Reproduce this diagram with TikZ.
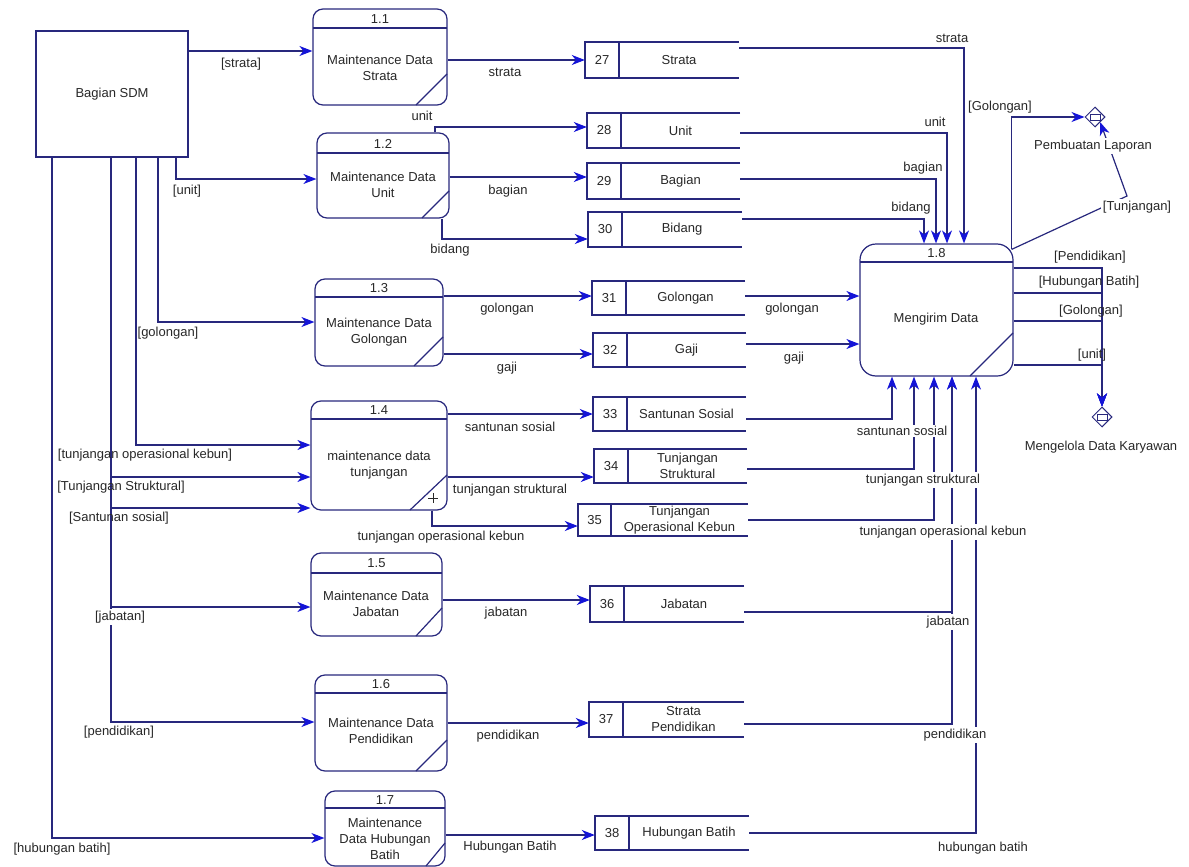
\documentclass[tikz,border=0pt]{standalone}
\usepackage{fontspec}
\setmainfont{Liberation Sans}
\usetikzlibrary{fit,arrows.meta,shapes.geometric,calc}
\definecolor{lnc}{RGB}{40,40,125}
\definecolor{ahc}{RGB}{20,20,215}
\definecolor{txc}{RGB}{40,40,40}
\newcommand\dfdproc[9]{%
  \node[procbox,fit={(#2,#3)(#4,#5)}] (#1) {};
  \draw[lnst] (#2,#6) -- (#4,#6);
  \draw[lnst] (#7,#5) -- (#4,#8);
  \node (#1num) at ({(#2+#4)/2},{(#3+#6)/2+0.5}) {#9};
}
\newcommand\dfdstore[8]{%
  \node[inner sep=0pt,fit={(#2,#3)(#4,#5)}] (#1) {};
  \draw[lnst] (#4,#3) -- (#2,#3) -- (#2,#5) -- (#4,#5);
  \draw[lnst] (#6,#3) -- (#6,#5);
  \node (#1num) at ({(#2+#6)/2},{(#3+#5)/2}) {#7};
  \node[align=center] (#1txt) at ({(#6+#4)/2},{(#3+#5)/2}) {#8};
}
\begin{document}
\begin{tikzpicture}[x=1pt,y=-1pt,
  every node/.style={font=\fontsize{13}{16}\selectfont,text=txc},
  lnst/.style={draw=lnc,line width=1.2pt},
  procbox/.style={draw=lnc,line width=1.2pt,rounded corners=10pt,inner sep=0pt},
  flow/.style={lnst,-{Stealth[length=13pt,width=10pt,inset=4pt,color=ahc]}},
  wl/.style={fill=white,inner sep=1.5pt},
  lbl/.style={inner sep=1pt},
  dia/.style={diamond,draw=lnc,line width=1pt,minimum width=20pt,minimum height=20pt,inner sep=0pt}]
\useasboundingbox[fill=white] (0,0) rectangle (1189,867);

% external entity
\node[draw=lnc,line width=1.2pt,inner sep=0pt,fit={(36,31)(188,157)}] (sdm) {};
\node (sdmt) at (sdm.center) {Bagian SDM};

% processes
\dfdproc{p11}{313}{9}{447}{105}{28}{416}{74}{1.1}
\node[align=center] (p11t) at (380,68) {Maintenance Data\\Strata};
\dfdproc{p12}{317}{133}{449}{218}{153}{422}{191}{1.2}
\node[align=center] (p12t) at (383,185) {Maintenance Data\\Unit};
\dfdproc{p13}{315}{279}{443}{366}{297}{414}{337}{1.3}
\node[align=center] (p13t) at (379,332) {Maintenance Data\\Golongan};
\dfdproc{p14}{311}{401}{447}{510}{419}{410}{475}{1.4}
\node[align=center] (p14t) at (379,465) {maintenance data\\tunjangan};
\draw[draw=txc,line width=0.8pt] (428,498) -- (438,498) (433,493) -- (433,503);
\dfdproc{p15}{311}{553}{442}{636}{573}{416}{608}{1.5}
\node[align=center] (p15t) at (376,604) {Maintenance Data\\Jabatan};
\dfdproc{p16}{315}{675}{447}{771}{693}{416}{740}{1.6}
\node[align=center] (p16t) at (381,731) {Maintenance Data\\Pendidikan};
\dfdproc{p17}{325}{791}{445}{866}{808}{426}{843}{1.7}
\node[align=center] (p17t) at (385,839) {Maintenance\\Data Hubungan\\Batih};
\begin{scope}[procbox/.append style={rounded corners=16pt}]
\dfdproc{p18}{860}{244}{1013}{376}{262}{970}{333}{1.8}
\end{scope}
\node (p18t) at (936,319) {Mengirim Data};

% data stores
\dfdstore{s27}{585}{42}{739}{78}{619}{27}{Strata}
\dfdstore{s28}{587}{113}{740}{148}{621}{28}{Unit}
\dfdstore{s29}{587}{163}{740}{199}{621}{29}{Bagian}
\dfdstore{s30}{588}{212}{742}{247}{622}{30}{Bidang}
\dfdstore{s31}{592}{281}{745}{315}{626}{31}{Golongan}
\dfdstore{s32}{593}{333}{746}{367}{627}{32}{Gaji}
\dfdstore{s33}{593}{397}{746}{431}{627}{33}{Santunan Sosial}
\dfdstore{s34}{594}{449}{747}{483}{628}{34}{Tunjangan\\Struktural}
\dfdstore{s35}{578}{504}{748}{536}{611}{35}{Tunjangan\\Operasional Kebun}
\dfdstore{s36}{590}{586}{744}{622}{624}{36}{Jabatan}
\dfdstore{s37}{589}{702}{744}{737}{623}{37}{Strata\\Pendidikan}
\dfdstore{s38}{595}{816}{749}{850}{629}{38}{Hubungan Batih}

% off-page connectors
\node[dia] (lap) at (1095,117) {};
\draw[lnst,line width=0.8pt] ($(lap)+(-5,-3)$) rectangle ($(lap)+(5,3)$);
\node[dia] (kary) at (1102,417) {};
\draw[lnst,line width=0.8pt] ($(kary)+(-5,-3)$) rectangle ($(kary)+(5,3)$);

% flows from Bagian SDM
\draw[flow] (sdm.east |- 0,51) -- (p11.west |- 0,51);
\draw[flow] (176,0 |- sdm.south) |- (p12.west |- 0,179);
\draw[flow] (158,0 |- sdm.south) |- (p13.west |- 0,322);
\draw[flow] (136,0 |- sdm.south) |- (p14.west |- 0,445);
\draw[flow] (111,0 |- sdm.south) |- (p14.west |- 0,477);
\draw[flow] (111,0 |- sdm.south) |- (p14.west |- 0,508);
\draw[flow] (111,0 |- sdm.south) |- (p15.west |- 0,607);
\draw[flow] (111,0 |- sdm.south) |- (p16.west |- 0,722);
\draw[flow] (52,0 |- sdm.south) |- (p17.west |- 0,838);

% flows process -> store
\draw[flow] (p11.east |- 0,60) -- (s27.west |- 0,60);
\draw[flow] (435,0 |- p12.north) |- (s28.west |- 0,127);
\draw[flow] (p12.east |- 0,177) -- (s29.west |- 0,177);
\draw[flow] (442,0 |- p12.south) |- (s30.west |- 0,239);
\draw[flow] (p13.east |- 0,296) -- (s31.west |- 0,296);
\draw[flow] (p13.east |- 0,354) -- (s32.west |- 0,354);
\draw[flow] (p14.east |- 0,414) -- (s33.west |- 0,414);
\draw[flow] (p14.east |- 0,477) -- (s34.west |- 0,477);
\draw[flow] (432,0 |- p14.south) |- (s35.west |- 0,526);
\draw[flow] (p15.east |- 0,600) -- (s36.west |- 0,600);
\draw[flow] (p16.east |- 0,723) -- (s37.west |- 0,723);
\draw[flow] (p17.east |- 0,835) -- (s38.west |- 0,835);

% flows store -> 1.8
\draw[flow] (s27.east |- 0,48) -| (964,0 |- p18.north);
\draw[flow] (s28.east |- 0,133) -| (947,0 |- p18.north);
\draw[flow] (s29.east |- 0,179) -| (936,0 |- p18.north);
\draw[flow] (s30.east |- 0,219) -| (924,0 |- p18.north);
\draw[flow] (s31.east |- 0,296) -- (p18.west |- 0,296);
\draw[flow] (s32.east |- 0,344) -- (p18.west |- 0,344);
\draw[flow] (s33.east |- 0,419) -| (892,0 |- p18.south);
\draw[flow] (s34.east |- 0,469) -| (914,0 |- p18.south);
\draw[flow] (s35.east |- 0,520) -| (934,0 |- p18.south);
\draw[flow] (s36.east |- 0,612) -| (952,0 |- p18.south);
\draw[flow] (s37.east |- 0,724) -| (952,0 |- p18.south);
\draw[flow] (s38.east |- 0,833) -| (976,0 |- p18.south);

% flows from 1.8
\coordinate (p18tr) at ($(p18.north east)+(-2,6)$);
\draw[flow] (p18tr) |- (lap.west);
\draw[flow] (p18tr) -- (1127,196) -- (lap.south east);
\draw[flow] (p18.east |- 0,268) -| (kary.north);
\draw[flow] (p18.east |- 0,293) -| (kary.north);
\draw[flow] (p18.east |- 0,321) -| (kary.north);
\draw[flow] (p18.east |- 0,365) -| (kary.north);

% labels left
\node[lbl] (la1) at (241,64) {[strata]};
\node[lbl] (la2) at (187,191) {[unit]};
\node[lbl] (la3) at (168,333) {[golongan]};
\node[lbl] (la4) at (145,455) {[tunjangan operasional kebun]};
\node[lbl] (la5) at (121,487) {[Tunjangan Struktural]};
\node[lbl] (la6) at (119,518) {[Santunan sosial]};
\node[wl] (la7) at (120,617) {[jabatan]};
\node[lbl] (la8) at (119,732) {[pendidikan]};
\node[lbl] (la9) at (62,849) {[hubungan batih]};

% labels middle
\node[lbl] (lb1) at (422,116) {unit};
\node[lbl] (lb2) at (505,72) {strata};
\node[lbl] (lb3) at (508,191) {bagian};
\node[lbl] (lb4) at (450,250) {bidang};
\node[lbl] (lb5) at (507,309) {golongan};
\node[lbl] (lb6) at (507,368) {gaji};
\node[lbl] (lb7) at (510,427) {santunan sosial};
\node[lbl] (lb8) at (510,490) {tunjangan struktural};
\node[lbl] (lb9) at (441,537) {tunjangan operasional kebun};
\node[lbl] (lb10) at (506,613) {jabatan};
\node[lbl] (lb11) at (508,736) {pendidikan};
\node[lbl] (lb12) at (510,847) {Hubungan Batih};

% labels right
\node[lbl] (lc1) at (952,38) {strata};
\node[lbl] (lc2) at (935,122) {unit};
\node[lbl] (lc3) at (923,168) {bagian};
\node[lbl] (lc4) at (911,208) {bidang};
\node[lbl] (lc5) at (792,309) {golongan};
\node[lbl] (lc6) at (794,358) {gaji};
\node[wl] (lc7) at (902,431) {santunan sosial};
\node[wl] (lc8) at (923,480) {tunjangan struktural};
\node[wl] (lc9) at (943,532) {tunjangan operasional kebun};
\node[wl] (lc10) at (948,622) {jabatan};
\node[wl] (lc11) at (955,735) {pendidikan};
\node[wl] (lc12) at (983,848) {hubungan batih};

% labels outputs
\node[lbl] (ld1) at (1000,107) {[Golongan]};
\node[wl] (ld2) at (1137,207) {[Tunjangan]};
\node[lbl] (ld3) at (1090,257) {[Pendidikan]};
\node[lbl] (ld4) at (1089,282) {[Hubungan Batih]};
\node[lbl] (ld5) at (1091,311) {[Golongan]};
\node[lbl] (ld6) at (1092,355) {[unit]};
\node[wl] (ld7) at (1093,146) {Pembuatan Laporan};
\node[lbl] (ld8) at (1101,447) {Mengelola Data Karyawan};
\end{tikzpicture}
\end{document}
